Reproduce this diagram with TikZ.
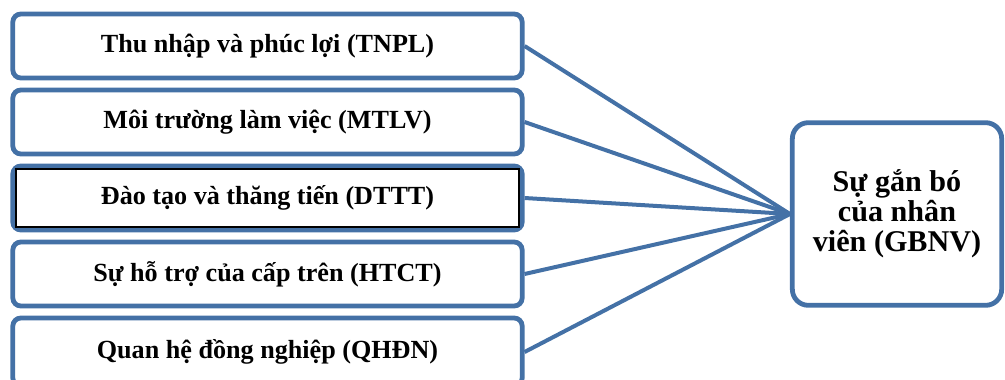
\documentclass[tikz,border=0pt]{standalone}
\usepackage{fontspec}
\setmainfont{Liberation Serif}
\usetikzlibrary{positioning}
\definecolor{boxblue}{RGB}{68,113,166}
\tikzset {
    node distance=5.4pt,
    factor/.style={draw=boxblue, line width=3.6pt, rounded corners=6pt,
        fill=white, minimum width=382pt, minimum height=48pt,
        font=\fontsize{19.6}{22}\selectfont\bfseries},
    outcome/.style={draw=boxblue, line width=3.6pt, rounded corners=12pt,
        fill=white, minimum width=157pt, minimum height=137pt,
        align=center, font=\fontsize{22.6}{22.5}\selectfont\bfseries},
    link/.style={draw=boxblue, line width=3pt}
}

\begin{document}
\begin{tikzpicture}[x=0.75pt, y=-0.75pt]
    \useasboundingbox (0,0) rectangle (1005,379);

    \node[factor] (tnpl) at (267.5,46) {Thu nhập và phúc lợi (TNPL)};
    \node[factor, below=of tnpl] (mtlv) {Môi trường làm việc (MTLV)};
    \node[factor, below=of mtlv] (dttt) {Đào tạo và thăng tiến (DTTT)};
    \node[factor, below=of dttt] (htct) {Sự hỗ trợ của cấp trên (HTCT)};
    \node[factor, below=of htct, minimum height=51pt] (qhdn) {Quan hệ đồng nghiệp (QHĐN)};

    \node[outcome] (gbnv) at (897,214) {Sự gắn bó\\của nhân\\viên (GBNV)};

    % black frame inside the third box
    \draw[black, line width=1.4pt]
        ([shift={(4pt,-4pt)}]dttt.north west) rectangle ([shift={(-4pt,4pt)}]dttt.south east);

    \foreach \f in {tnpl, mtlv, dttt, htct, qhdn}
        \draw[link] (\f.east) -- (gbnv.west);
\end{tikzpicture}
\end{document}
